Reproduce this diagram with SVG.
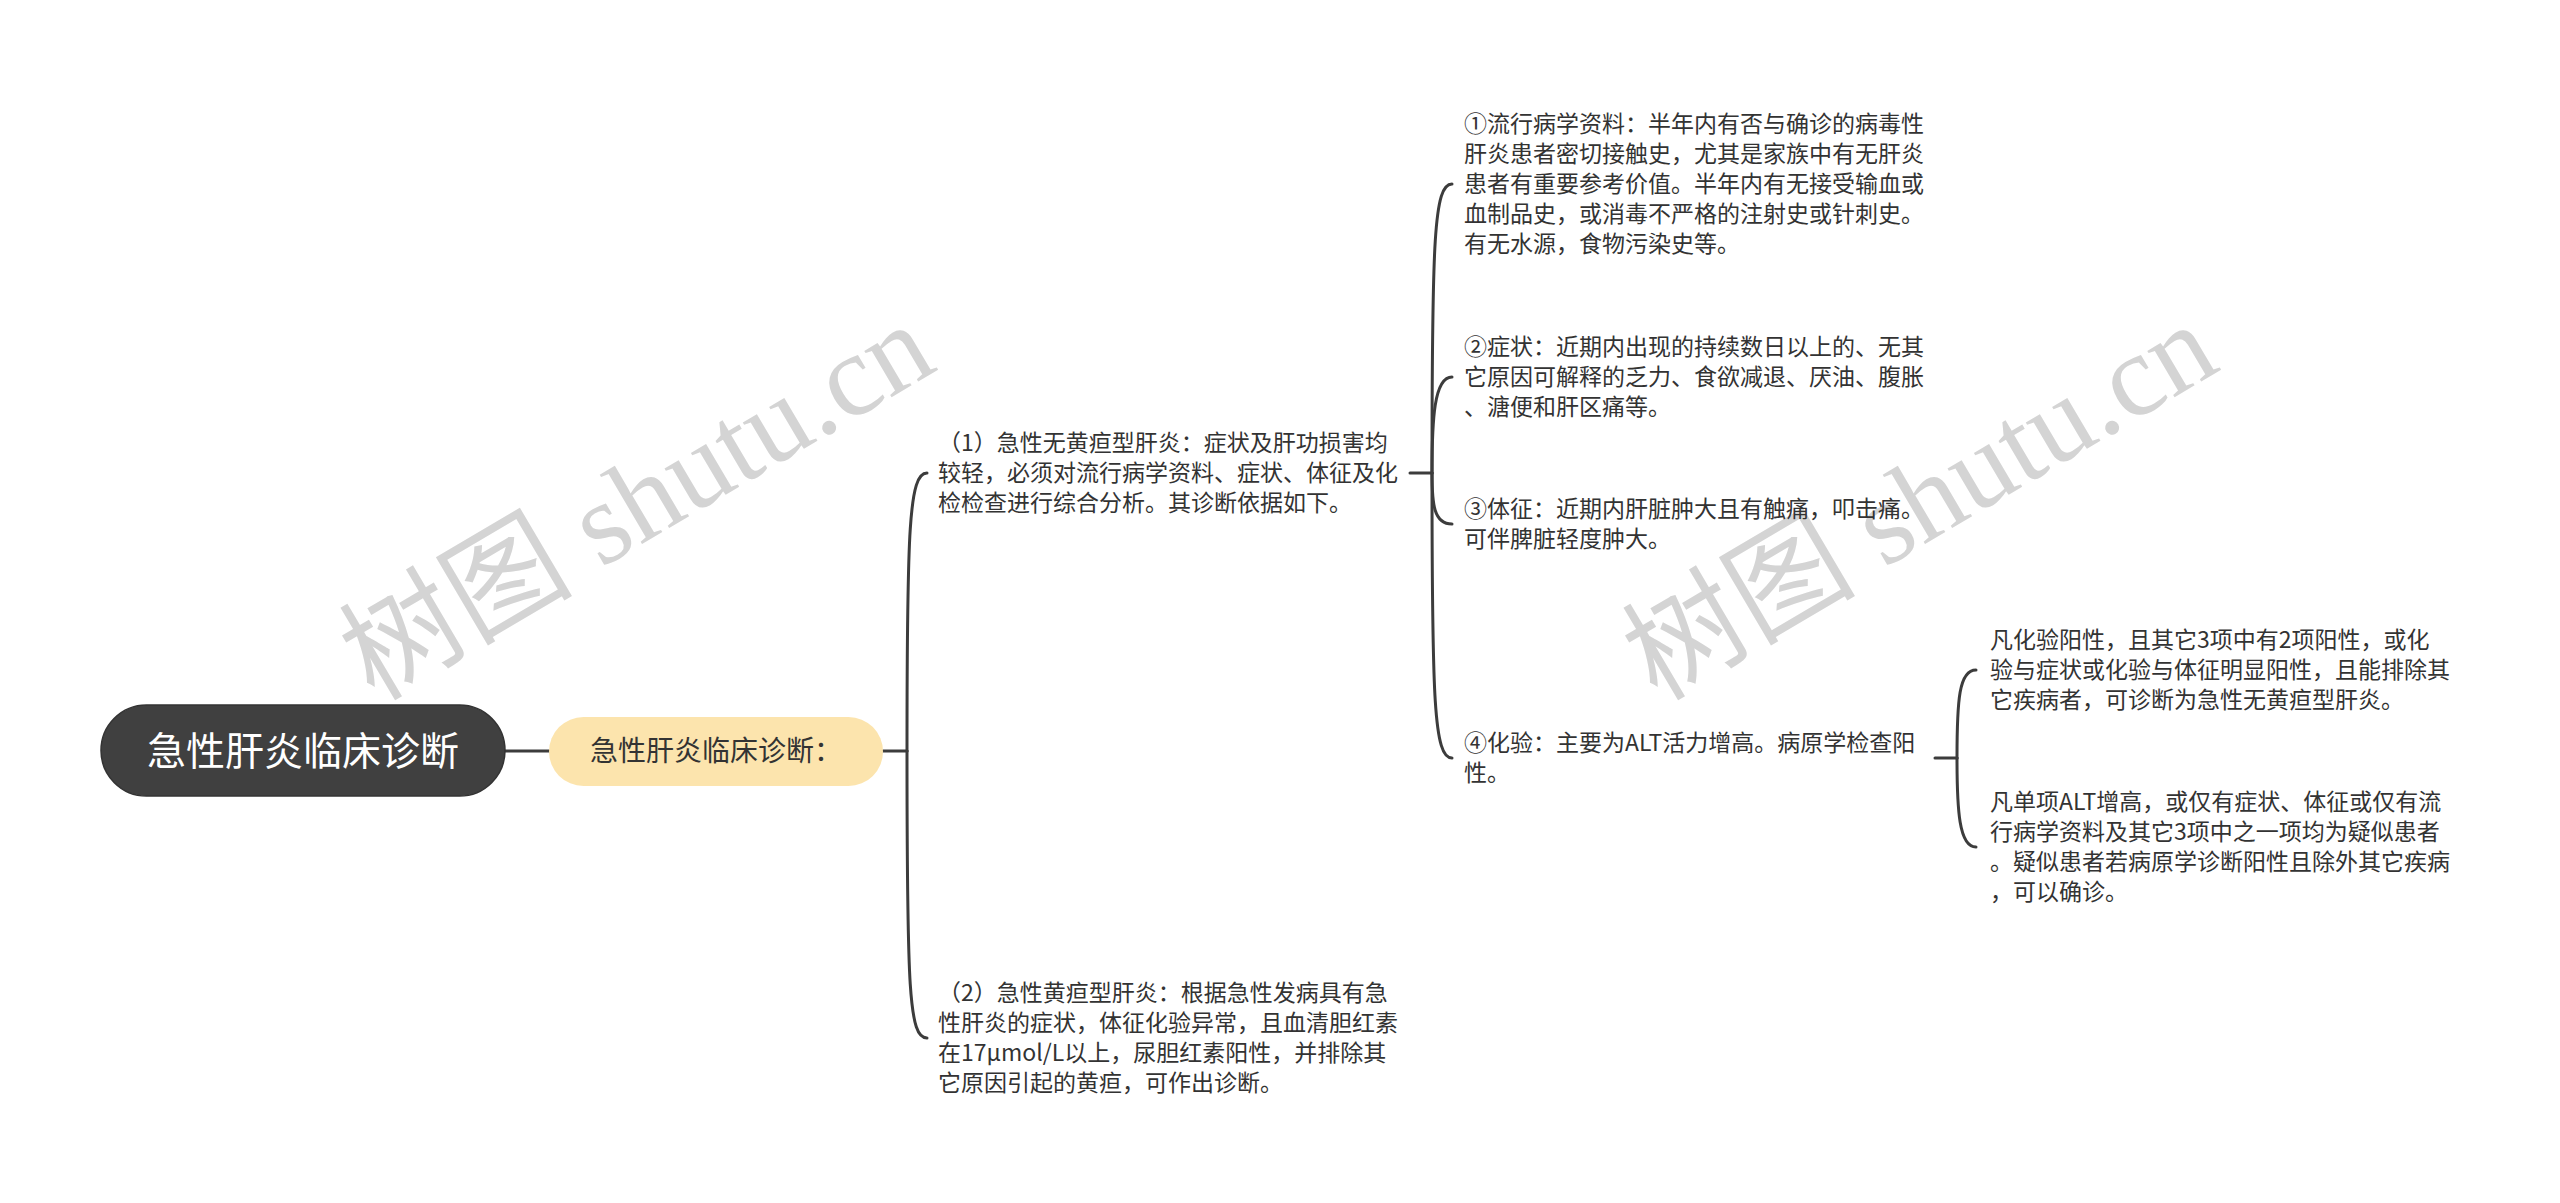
<svg xmlns="http://www.w3.org/2000/svg" width="2560" height="1203" viewBox="0 0 2560 1203">
<style>
.t{font-family:"Noto Sans CJK SC","Noto Sans",sans-serif;font-size:23px;fill:#333333}
.wm{font-family:"Liberation Serif","Noto Sans CJK SC",serif;font-size:117px;fill:#d4d4d4}
.c{fill:none;stroke:#3c3c3c;stroke-width:3;stroke-linecap:round}
</style>
<rect width="2560" height="1203" fill="#ffffff"/>
<g id="watermarks">
<text class="wm" transform="translate(374,702) rotate(-30.5)">树图 shutu.cn</text>
<text class="wm" transform="translate(1657,702) rotate(-30.5)">树图 shutu.cn</text>
</g>
<g id="connectors">
<path class="c" d="M505,751 L549,751"/>
<path class="c" d="M883,751 L907,751"/>
<path class="c" d="M907,751 C907,530 909,473 927,473"/>
<path class="c" d="M907,751 C907,990 909,1038 927,1038"/>
<path class="c" d="M1410,473 L1432,473"/>
<path class="c" d="M1432,473 C1432,240 1434,184 1452,184"/>
<path class="c" d="M1432,473 C1432,420 1434,377 1452,377"/>
<path class="c" d="M1432,473 C1432,505 1434,524 1452,524"/>
<path class="c" d="M1432,473 C1432,700 1434,758 1452,758"/>
<path class="c" d="M1935,758 L1957,758"/>
<path class="c" d="M1957,758 C1957,700 1959,670 1976,670"/>
<path class="c" d="M1957,758 C1957,810 1959,847 1976,847"/>
</g>
<g id="root">
<rect x="101" y="705" width="404" height="91" rx="45.5" fill="#404040" stroke="#333333" stroke-width="1.5"/>
<text x="303" y="765" text-anchor="middle" style="font-family:'Noto Sans CJK SC',sans-serif;font-size:39px;fill:#ffffff">急性肝炎临床诊断</text>
</g>
<g id="n_main">
<rect x="549" y="717" width="334" height="69" rx="34.5" fill="#fce4ad"/>
<text x="716" y="761" text-anchor="middle" style="font-family:'Noto Sans CJK SC',sans-serif;font-size:28px;fill:#333333">急性肝炎临床诊断：</text>
</g>
<g id="n_1">
<text class="t" x="938" y="451">（1）急性无黄疸型肝炎：症状及肝功损害均</text>
<text class="t" x="938" y="481">较轻，必须对流行病学资料、症状、体征及化</text>
<text class="t" x="938" y="511">检检查进行综合分析。其诊断依据如下。</text>
</g>
<g id="n_2">
<text class="t" x="938" y="1001">（2）急性黄疸型肝炎：根据急性发病具有急</text>
<text class="t" x="938" y="1031">性肝炎的症状，体征化验异常，且血清胆红素</text>
<text class="t" x="938" y="1061">在17μmol/L以上，尿胆红素阳性，并排除其</text>
<text class="t" x="938" y="1091">它原因引起的黄疸，可作出诊断。</text>
</g>
<g id="n_1a">
<text class="t" x="1464" y="132">①流行病学资料：半年内有否与确诊的病毒性</text>
<text class="t" x="1464" y="162">肝炎患者密切接触史，尤其是家族中有无肝炎</text>
<text class="t" x="1464" y="192">患者有重要参考价值。半年内有无接受输血或</text>
<text class="t" x="1464" y="222">血制品史，或消毒不严格的注射史或针刺史。</text>
<text class="t" x="1464" y="252">有无水源，食物污染史等。</text>
</g>
<g id="n_1b">
<text class="t" x="1464" y="355">②症状：近期内出现的持续数日以上的、无其</text>
<text class="t" x="1464" y="385">它原因可解释的乏力、食欲减退、厌油、腹胀</text>
<text class="t" x="1464" y="415">、溏便和肝区痛等。</text>
</g>
<g id="n_1c">
<text class="t" x="1464" y="517">③体征：近期内肝脏肿大且有触痛，叩击痛。</text>
<text class="t" x="1464" y="547">可伴脾脏轻度肿大。</text>
</g>
<g id="n_1d">
<text class="t" x="1464" y="751">④化验：主要为ALT活力增高。病原学检查阳</text>
<text class="t" x="1464" y="781">性。</text>
</g>
<g id="n_1d1">
<text class="t" x="1990" y="648">凡化验阳性，且其它3项中有2项阳性，或化</text>
<text class="t" x="1990" y="678">验与症状或化验与体征明显阳性，且能排除其</text>
<text class="t" x="1990" y="708">它疾病者，可诊断为急性无黄疸型肝炎。</text>
</g>
<g id="n_1d2">
<text class="t" x="1990" y="810">凡单项ALT增高，或仅有症状、体征或仅有流</text>
<text class="t" x="1990" y="840">行病学资料及其它3项中之一项均为疑似患者</text>
<text class="t" x="1990" y="870">。疑似患者若病原学诊断阳性且除外其它疾病</text>
<text class="t" x="1990" y="900">，可以确诊。</text>
</g>
</svg>
